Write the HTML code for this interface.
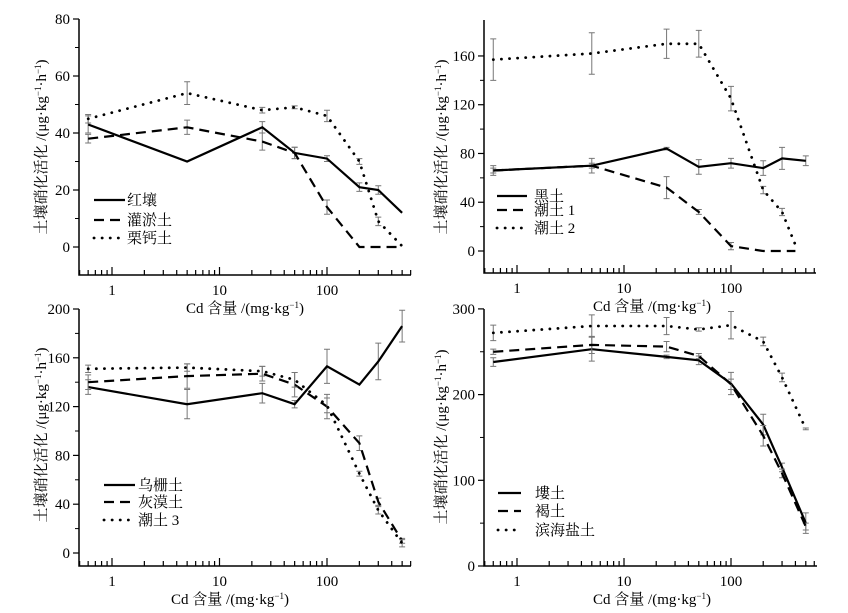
<!DOCTYPE html>
<html><head><meta charset="utf-8"><style>
html,body{margin:0;padding:0;background:#fff;}
svg{display:block;font-family:"Liberation Serif","Noto Serif CJK SC",serif;}
</style></head><body>
<svg id="chart" width="848" height="613" viewBox="0 0 848 613" xmlns="http://www.w3.org/2000/svg"></svg>
<script>
// Shared x data (Cd content, mg/kg)
const xVals = [0.6, 5, 25, 50, 100, 200, 300, 500];
const xValsB2 = [0.6, 5, 25, 50, 100, 200, 300, 400];
const xTicks = [1, 10, 100];
// Panel A
const aSeries1 = [43, 30, 42, 33, 31, 21, 20, 12];
const aErr1 = [3, 0, 2, 2, 1, 1.5, 1.5, 0];
const aSeries2 = [38, 42, 37, 33, 14, 0, 0, 0];
const aErr2 = [1.5, 2.5, 3, 2, 2.5, 0, 0, 0];
const aSeries3 = [45, 54, 48, 49, 46, 30, 9, 0.3];
const aErr3 = [1.5, 4, 1, 0.5, 2, 1, 1.5, 0];
const aYTicks = [0, 20, 40, 60, 80];
const aNames = ["红壤", "灌淤土", "栗钙土"];
// Panel B
const bSeries1 = [66, 70, 84, 69, 72, 68, 76, 74];
const bErr1 = [4, 6, 1, 6, 4, 6, 9, 4];
const bSeries2 = [66, 70, 52, 32, 4, 0, 0, 0];
const bErr2 = [2, 2, 9, 2, 3, 0, 0, 0];
const bSeries3 = [157, 162, 170, 170, 125, 50, 32, 5];
const bErr3 = [17, 17, 12, 11, 10, 3, 3, 0];
const bYTicks = [0, 40, 80, 120, 160];
const bNames = ["黑土", "潮土 1", "潮土 2"];
// Panel C
const cSeries1 = [136, 122, 131, 122, 153, 138, 157, 186];
const cErr1 = [6, 12, 8, 3, 14, 0, 15, 13];
const cSeries2 = [140, 145, 147, 138, 120, 90, 42, 10];
const cErr2 = [6, 10, 6, 10, 10, 6, 3, 2];
const cSeries3 = [151, 152, 149, 142, 121, 65, 35, 8];
const cErr3 = [3, 3, 4, 6, 6, 2, 3, 3];
const cYTicks = [0, 40, 80, 120, 160, 200];
const cNames = ["乌栅土", "灰漠土", "潮土 3"];
// Panel D
const dSeries1 = [238, 253, 244, 240, 213, 165, 115, 50];
const dErr1 = [5, 14, 2, 5, 13, 12, 5, 12];
const dSeries2 = [250, 258, 256, 245, 212, 152, 108, 46];
const dErr2 = [3, 10, 6, 3, 6, 12, 5, 4];
const dSeries3 = [272, 280, 280, 276, 281, 262, 220, 160];
const dErr3 = [9, 13, 10, 2, 16, 5, 5, 1];
const dYTicks = [0, 100, 200, 300];
const dNames = ["塿土", "褐土", "滨海盐土"];

const NS = "http://www.w3.org/2000/svg";
const svg = document.getElementById("chart");
function mk(tag, attrs, parent) {
  const e = document.createElementNS(NS, tag);
  for (const k in attrs) e.setAttribute(k, attrs[k]);
  (parent || svg).appendChild(e);
  return e;
}
const dashes = ["", "10,6", "0.1,8"];
const widths = [2.2, 2.2, 2.8];

function panel(id, P) {
  const g = mk("g", {});
  
  
  const xs = v => P.x1 + (Math.log10(v)) * P.dec;
  const ys = v => P.y0 - v * P.ppu;
  const ax = mk("path", {d: `M${P.ax},${P.top} L${P.ax},${P.axY} L${P.right},${P.axY}`, fill: "none", stroke: "#000", "stroke-width": 1.5}, g);
  
  
  P.yt.forEach((t, i) => {
    const y = ys(t);
    mk("line", {x1: P.ax - 6, x2: P.ax, y1: y, y2: y, stroke: "#000", "stroke-width": 1.2}, g);
    const tx = mk("text", {x: P.ax - 9, y: y + 5, "text-anchor": "end", "font-size": 15}, g);
    tx.textContent = t;
    
    
    if (i < P.yt.length - 1) {
      const m = ys((t + P.yt[i + 1]) / 2);
      mk("line", {x1: P.ax - 4, x2: P.ax, y1: m, y2: m, stroke: "#000", "stroke-width": 1}, g);
    }
  });
  for (let d = -1; d <= 2; d++) {
    for (let k = 1; k <= 9; k++) {
      const v = k * Math.pow(10, d);
      if (v < P.xmin || v > P.xmax) continue;
      const x = xs(v);
      const major = k === 1;
      mk("line", {x1: x, x2: x, y1: P.axY, y2: P.axY - (major ? 8 : 5), stroke: "#000", "stroke-width": 1.2}, g);
    }
  }
  xTicks.forEach(t => {
    const tx = mk("text", {x: xs(t), y: P.axY + 20, "text-anchor": "middle", "font-size": 15}, g);
    tx.textContent = t;
    
    
  });
  const xt = mk("text", {x: P.xtX, y: P.axY + 38, "text-anchor": "middle", "font-size": 15}, g);
  xt.innerHTML = 'Cd 含量 /(mg·kg<tspan dy="-5" font-size="9">−1</tspan><tspan dy="5">)</tspan>';
  
  
  const yt = mk("text", {x: 0, y: 0, "text-anchor": "middle", "font-size": 15, transform: `translate(${P.ytX},${P.ytY}) rotate(-90)`}, g);
  yt.innerHTML = '土壤硝化活化 /(μg·kg<tspan dy="-5" font-size="9">−1</tspan><tspan dy="5">·h</tspan><tspan dy="-5" font-size="9">−1</tspan><tspan dy="5">)</tspan>';
  
  
  P.series.forEach((s, i) => {
    const xv = s.x || xVals;
    s.v.forEach((v, j) => {
      const e = s.e[j];
      if (!e) return;
      const x = xs(xv[j]);
      const eb = mk("path", {d: `M${x},${ys(v - e)} L${x},${ys(v + e)} M${x - 3},${ys(v - e)} L${x + 3},${ys(v - e)} M${x - 3},${ys(v + e)} L${x + 3},${ys(v + e)}`, stroke: "#777", "stroke-width": 1, fill: "none"}, g);
      
      
    });
    const d = s.v.map((v, j) => (j ? "L" : "M") + xs(xv[j]).toFixed(1) + "," + ys(v).toFixed(1)).join(" ");
    const attrs = {d: d, fill: "none", stroke: "#000", "stroke-width": widths[i], "stroke-linecap": i === 2 ? "round" : "butt"};
    if (dashes[i]) attrs["stroke-dasharray"] = dashes[i];
    const ln = mk("path", attrs, g);
    
    
    const ly = P.leg.y[i];
    const la = {x1: P.leg.x0, x2: P.leg.x1, y1: ly, y2: ly, stroke: "#000", "stroke-width": widths[i], "stroke-linecap": i === 2 ? "round" : "butt"};
    if (dashes[i]) la["stroke-dasharray"] = dashes[i];
    const ll = mk("line", la, g);
    
    
    const lt = mk("text", {x: P.leg.tx, y: ly + 5, "font-size": 15}, g);
    lt.textContent = P.names[i];
    
    
  });
}

panel("panel-a", {ax: 79, axY: 275, top: 19, right: 411, x1: 112, dec: 107.5, y0: 247, ppu: 2.85, xmin: 0.5, xmax: 600,
  yt: aYTicks, xtX: 245, ytX: 46, ytY: 147, names: aNames,
  leg: {x0: 94, x1: 125, tx: 127, y: [200, 220, 238]},
  series: [{v: aSeries1, e: aErr1}, {v: aSeries2, e: aErr2}, {v: aSeries3, e: aErr3}]});
panel("panel-b", {ax: 484, axY: 273, top: 20, right: 816, x1: 517, dec: 107, y0: 251, ppu: 1.219, xmin: 0.5, xmax: 600,
  yt: bYTicks, xtX: 652, ytX: 446, ytY: 147, names: bNames,
  leg: {x0: 497, x1: 527, tx: 534, y: [196, 210, 228]},
  series: [{v: bSeries1, e: bErr1}, {v: bSeries2, e: bErr2, x: xValsB2}, {v: bSeries3, e: bErr3, x: xValsB2}]});
panel("panel-c", {ax: 79, axY: 566, top: 309, right: 411, x1: 112, dec: 107.5, y0: 553, ppu: 1.22, xmin: 0.5, xmax: 600,
  yt: cYTicks, xtX: 230, ytX: 46, ytY: 435, names: cNames,
  leg: {x0: 104, x1: 135, tx: 138, y: [485, 502, 520]},
  series: [{v: cSeries1, e: cErr1}, {v: cSeries2, e: cErr2}, {v: cSeries3, e: cErr3}]});
panel("panel-d", {ax: 484, axY: 566, top: 309, right: 817, x1: 517, dec: 107, y0: 566, ppu: 0.857, xmin: 0.5, xmax: 600,
  yt: dYTicks, xtX: 652, ytX: 446, ytY: 437, names: dNames,
  leg: {x0: 498, x1: 521, tx: 535, y: [493, 511, 530]},
  series: [{v: dSeries1, e: dErr1}, {v: dSeries2, e: dErr2}, {v: dSeries3, e: dErr3}]});
</script>
</body></html>
